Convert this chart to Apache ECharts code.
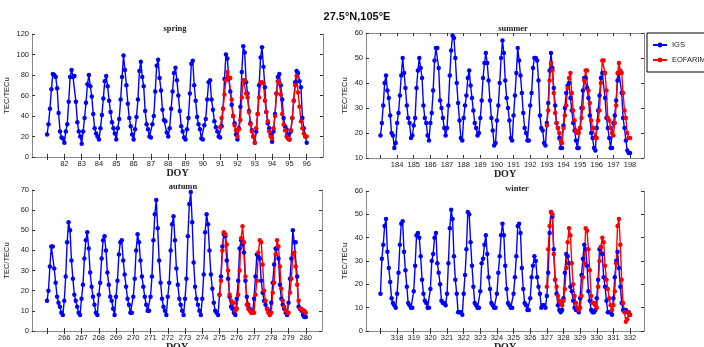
<!DOCTYPE html>
<html>
<head>
<meta charset="utf-8">
<script src="https://cdn.jsdelivr.net/npm/echarts@6/dist/echarts.min.js"></script>
<style>
html,body{margin:0;padding:0;background:#fff;}
#c{width:704px;height:347px;}
</style>
</head>
<body>
<div id="c"></div>
<script>
// ---- data (2-hourly TEC, 12 values per day) ----
const springStart = 81, springEofStart = 91;
const springIGS = [
 22,32,47,66,81,80,78,67,43,25,19,18,
 14,25,32,54,78,85,78,79,54,34,25,20,
 13,25,38,53,71,80,69,59,42,28,23,20,
 17,28,41,57,74,79,69,55,44,34,28,23,
 17,28,37,56,78,99,85,70,52,38,30,22,
 17,27,39,56,84,93,78,69,45,32,27,20,
 19,32,40,64,89,95,77,65,46,36,35,24,
 20,28,47,64,82,87,75,60,45,30,25,19,
 17,27,38,62,91,94,70,55,39,32,27,18,
 17,31,37,56,73,75,56,46,35,29,25,20,
 19,30,47,76,100,96,76,64,51,40,33,22,
 17,28,49,83,108,102,73,62,45,33,26,20,
 14,25,42,70,97,107,88,68,44,33,28,22,
 15,25,42,62,78,81,70,56,38,30,27,22,
 17,25,38,55,73,84,82,74,68,38,28,20,
 14];
const springEOF = [
 29,38,47,61,75,83,77,77,56,40,31,26,
 20,27,36,58,75,75,62,58,44,32,25,20,
 14,28,42,58,73,73,72,55,44,35,25,20,
 18,28,40,62,74,72,61,42,32,26,20,18,
 17,26,38,55,70,79,63,49,35,28,23,20,
 20];

const summerStart = 183, summerEofStart = 193;
const summerIGS = [
 19,24,31,40,43,37,34,27,20,19,14,16,
 24,28,35,43,50,44,38,31,26,24,18,19,
 23,26,38,45,50,46,42,31,26,24,19,17,
 24,28,37,49,54,54,46,33,30,26,22,19,
 22,31,43,53,59,58,50,40,32,25,18,17,
 26,31,35,42,45,39,34,29,24,22,19,20,
 26,33,42,48,52,48,41,33,26,21,15,16,
 25,31,40,50,57,52,41,34,30,25,18,17,
 27,35,44,54,49,43,36,28,22,20,17,17,
 31,36,46,50,50,49,41,27,22,21,16,15,
 24,32,45,52,46,38,31,24,22,18,14,14,
 23,30,36,39,40,34,29,24,21,17,14,14,
 22,30,37,42,42,38,34,27,20,18,14,13,
 22,29,35,42,44,44,34,26,22,18,14,14,
 24,27,33,41,44,44,36,26,22,17,13,12,
 12];
const summerEOF = [
 23,29,41,48,45,36,28,24,22,20,17,16,
 22,27,31,38,42,44,36,29,25,21,20,20,
 22,26,30,41,45,45,37,32,25,22,22,18,
 18,25,29,40,49,49,44,37,26,25,22,20,
 19,24,31,44,48,45,44,36,29,26,20,18,
 18];

const autumnStart = 265, autumnEofStart = 275;
const autumnIGS = [
 15,20,32,42,42,31,24,17,14,12,9,8,
 15,27,44,54,50,35,26,18,15,12,9,8,
 16,23,36,45,49,41,29,22,17,13,9,8,
 18,24,36,45,47,40,29,23,17,15,11,8,
 17,25,38,44,45,35,28,22,16,13,9,9,
 17,26,40,48,44,35,27,22,17,13,10,10,
 17,27,45,58,65,51,35,24,16,12,10,8,
 17,24,40,53,57,45,31,23,16,13,10,8,
 16,26,47,63,69,54,34,22,16,13,10,8,
 16,28,49,58,53,40,28,21,14,10,9,8,
 18,27,42,48,47,35,26,17,12,11,9,8,
 16,25,41,45,43,39,25,17,13,11,10,9,
 16,27,38,37,36,25,19,15,13,11,10,9,
 14,24,33,41,41,36,23,16,13,11,9,8,
 14,26,36,50,44,44,27,12,11,10,8,7,
 7];
const autumnEOF = [
 18,25,40,49,48,43,30,18,15,14,14,10,
 11,18,30,46,52,44,27,13,11,10,9,9,
 9,18,25,39,45,44,33,20,15,11,9,8,
 9,19,24,38,45,42,32,21,15,12,10,9,
 9,19,26,38,39,32,23,15,11,11,10,10,
 9];

const winterStart = 317, winterEofStart = 327;
const winterIGS = [
 16,31,37,45,48,34,27,21,14,12,11,10,
 16,25,37,46,47,34,26,19,12,11,10,10,
 17,28,41,42,40,32,22,16,13,12,10,10,
 18,30,33,40,42,29,25,20,13,12,12,11,
 16,29,44,52,48,32,22,16,8,8,8,7,
 16,24,35,51,50,38,28,19,12,11,10,10,
 17,29,31,37,41,33,23,18,12,11,10,10,
 16,25,32,41,46,41,28,18,12,11,10,10,
 16,23,32,45,46,42,27,18,12,11,9,9,
 14,23,28,32,30,23,19,16,10,11,11,10,
 15,25,42,51,49,35,22,16,11,9,8,9,
 14,25,33,32,29,19,17,13,10,9,9,8,
 14,24,31,37,35,28,17,13,9,8,8,9,
 14,22,35,36,33,23,19,13,8,8,8,7,
 14,23,30,34,27,19,12,9,9,9,8,8,
 7];
const winterEOF = [
 19,35,45,51,50,33,22,19,15,13,12,11,
 13,18,27,38,44,41,29,20,15,12,10,9,
 10,15,23,29,44,43,35,26,15,12,12,11,
 10,19,30,36,40,38,28,22,18,14,11,9,
 11,17,29,45,48,37,22,12,8,4,5,8,
 7];

const springTicks = [81,82,83,84,85,86,87,88,89,90,91,92,93,94,95,96];
const summerTicks = [183,184,185,186,187,188,189,190,191,192,193,194,195,196,197,198];
const autumnTicks = [265,266,267,268,269,270,271,272,273,274,275,276,277,278,279,280];
const winterTicks = [317,318,319,320,321,322,323,324,325,326,327,328,329,330,331,332];
const panelTitles = ['spring','summer','autumn','winter'];
const yMin = [0,10,0,0], yMax = [120,60,70,60];

// ---- build chart ----
const toXY = (arr, start) => arr.map((v,k) => [start + k/12, v]);
const grids = [
  {left:32, top:34, width:291, height:123},
  {left:366, top:33, width:278, height:125},
  {left:32, top:190, width:290, height:141},
  {left:366, top:191, width:278, height:140}
];
grids.forEach(g => { g.containLabel = false; g.outerBoundsMode = 'none'; });
const tickSets = [springTicks, summerTicks, autumnTicks, winterTicks];
const xRanges = [[80.13,96.94],[182.13,198.84],[264.13,280.94],[316.13,332.84]];
const sans = 'Liberation Sans, Arial, sans-serif';
const serif = 'Liberation Serif, Times New Roman, serif';
const boxColor = '#888';
const xAxes = [], yAxes = [];
for (let i=0;i<4;i++){
  const ticks = tickSets[i];
  xAxes.push({
    type:'value', gridIndex:i, min:xRanges[i][0], max:xRanges[i][1], position:'bottom',
    name:'DOY', nameLocation:'middle', nameGap: 9,
    nameTextStyle:{fontFamily:serif, fontWeight:'bold', fontSize:10, color:'#222'},
    axisLine:{show:true, lineStyle:{color:boxColor, width:1}},
    axisTick:{show:true, inside:true, length:3, customValues:ticks, lineStyle:{color:'#333'}},
    axisLabel:{show:true, customValues:ticks.slice(1), formatter: v => String(Math.round(v)),
      fontFamily:sans, fontSize:7.5, color:'#222', margin:3},
    splitLine:{show:false}
  });
  yAxes.push({
    type:'value', gridIndex:i, min:yMin[i], max:yMax[i], interval:10*(i===0?2:1), position:'left',
    name:'TEC/TECu', nameLocation:'middle', nameGap: i%2===0 ? 21 : 17, nameRotate:90,
    nameTextStyle:{fontFamily:sans, fontSize:7.5, color:'#222'},
    axisLine:{show:true, lineStyle:{color:boxColor, width:1}},
    axisTick:{show:true, inside:true, length:3, lineStyle:{color:'#333'}},
    axisLabel:{show:true, fontFamily:sans, fontSize:7.5, color:'#222', margin:3},
    splitLine:{show:false}
  });
}
for (let i=0;i<4;i++){
  xAxes.push({
    type:'value', gridIndex:i, min:xRanges[i][0], max:xRanges[i][1], position:'top',
    axisLine:{show:true, lineStyle:{color:boxColor, width:1}},
    axisTick:{show:true, inside:true, length:3, customValues:tickSets[i], lineStyle:{color:'#333'}},
    axisLabel:{show:false}, splitLine:{show:false}
  });
  yAxes.push({
    type:'value', gridIndex:i, min:yMin[i], max:yMax[i], interval:10*(i===0?2:1), position:'right',
    axisLine:{show:true, lineStyle:{color:boxColor, width:1}},
    axisTick:{show:true, inside:true, length:3, lineStyle:{color:'#333'}},
    axisLabel:{show:false}, splitLine:{show:false}
  });
}
const igsSets = [[springIGS,springStart],[summerIGS,summerStart],[autumnIGS,autumnStart],[winterIGS,winterStart]];
const eofSets = [[springEOF,springEofStart],[summerEOF,summerEofStart],[autumnEOF,autumnEofStart],[winterEOF,winterEofStart]];
const series = [];
const mk = (name, color, data, i) => ({
  name, type:'line', xAxisIndex:i, yAxisIndex:i, data,
  symbol:'circle', symbolSize:4.5, showSymbol:true, showAllSymbol:true,
  sampling:null, connectNulls:true, clip:true,
  lineStyle:{color, width:1.4, opacity:1}, itemStyle:{color}, animation:false
});
for (let i=0;i<4;i++) series.push(mk('IGS','#0000ff', toXY(igsSets[i][0], igsSets[i][1]), i));
for (let i=0;i<4;i++) series.push(mk('EOFARIMA','#ff0000', toXY(eofSets[i][0], eofSets[i][1]), i));

const titleStyle = {fontFamily:serif, fontWeight:'bold', fontSize:8.5, color:'#222'};
const option = {
  backgroundColor:'#fff',
  animation:false,
  title:[
    {text:'27.5°N,105°E', left:352, top:6, textAlign:'center', textStyle:{fontFamily:sans, fontWeight:'bold', fontSize:11, color:'#111'}},
    {text:panelTitles[0], left:170, top:19, textAlign:'center', textStyle:titleStyle},
    {text:panelTitles[1], left:508, top:19, textAlign:'center', textStyle:titleStyle},
    {text:panelTitles[2], left:178, top:177, textAlign:'center', textStyle:titleStyle},
    {text:panelTitles[3], left:512, top:179, textAlign:'center', textStyle:titleStyle}
  ],
  legend:{
    data:['IGS','EOFARIMA'], orient:'vertical', left:647, top:33,
    borderColor:'#000', borderWidth:1, padding:[8,6,8,5], itemGap:7,
    itemWidth:14, itemHeight:6,
    textStyle:{fontFamily:sans, fontSize:7.5, color:'#222'}
  },
  grid:grids,
  xAxis:xAxes,
  yAxis:yAxes,
  series
};
const chart = echarts.init(document.getElementById('c'), null, {renderer:'canvas'});
chart.setOption(option);
</script>
</body>
</html>
